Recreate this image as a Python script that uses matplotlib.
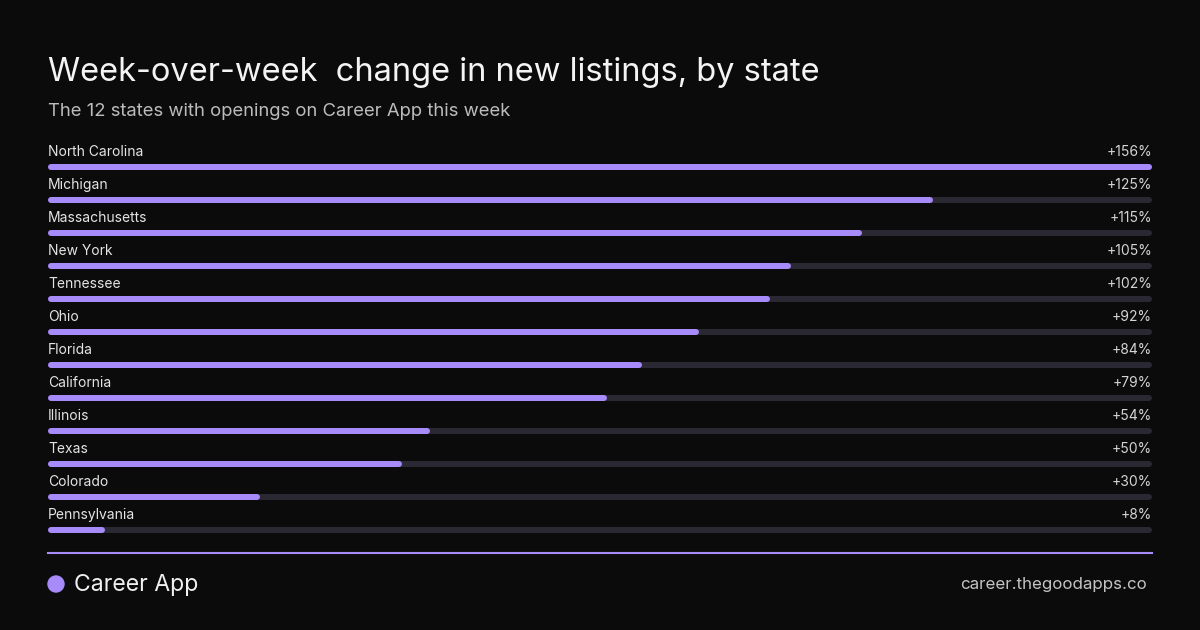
import matplotlib.pyplot as plt
from matplotlib.patches import Circle

states = ["North Carolina", "Michigan", "Massachusetts", "New York", "Tennessee",
          "Ohio", "Florida", "California", "Illinois", "Texas", "Colorado", "Pennsylvania"]
change = [156, 125, 115, 105, 102, 92, 84, 79, 54, 50, 30, 8]

BG = "#0b0b0b"
PURPLE = "#a78bfa"
TRACK = "#2a2833"
W, H = 1200, 630

plt.rcParams['font.family'] = ['Inter', 'DejaVu Sans']
fig = plt.figure(figsize=(12, 6.3), dpi=100, facecolor=BG)

# bar area in pixels: x 48..1152, rows centred at 166.5 + 33*i
ax = fig.add_axes([48 / W, 1 - 546 / H, 1104 / W, 396 / H])
ax.set_facecolor(BG)
vmax = max(change)
ax.set_xlim(0, vmax)
ax.set_ylim(len(states) - 0.5, -0.5)
ax.axis("off")

lw = 6 * 72 / 100
inset = 3 * vmax / 1104  # keep the round caps inside the bar length
for i, (s, v) in enumerate(zip(states, change)):
    ax.plot([inset, vmax - inset], [i, i], color=TRACK, lw=lw, solid_capstyle="round",
            zorder=1, clip_on=False)
    ax.plot([inset, v - inset], [i, i], color=PURPLE, lw=lw, solid_capstyle="round",
            zorder=2, clip_on=False)
    ax.annotate(s, (0, i), xytext=(0, 10.3), textcoords="offset points",
                ha="left", va="center", color="#e4e4e4", fontsize=10)
    ax.annotate(f"+{v}%", (vmax, i), xytext=(0, 10.3), textcoords="offset points",
                ha="right", va="center", color="#d4d4d4", fontsize=10)

fig.text(48 / W, 1 - 72.5 / H, "Week-over-week  change in new listings, by state",
         color="#f4f4f4", fontsize=23.5, ha="left", va="center")
fig.text(48 / W, 1 - 111.5 / H, "The 12 states with openings on Career App this week",
         color="#bcbcbc", fontsize=13.3, ha="left", va="center")

fig.add_artist(plt.Line2D([48 / W, 1152 / W], [1 - 553 / H, 1 - 553 / H],
                          color=PURPLE, lw=1.5))
fig.add_artist(Circle((0.56, 6.3 - 5.84), 0.08, color=PURPLE,
                      transform=fig.dpi_scale_trans))
fig.text(74 / W, 1 - 585 / H, "Career App", color="#f0f0f0", fontsize=16.6,
         ha="left", va="center")
fig.text(1147 / W, 1 - 585 / H, "career.thegoodapps.co", color="#c4c4c4",
         fontsize=12.2, ha="right", va="center")

fig.savefig("out.png", facecolor=BG)
